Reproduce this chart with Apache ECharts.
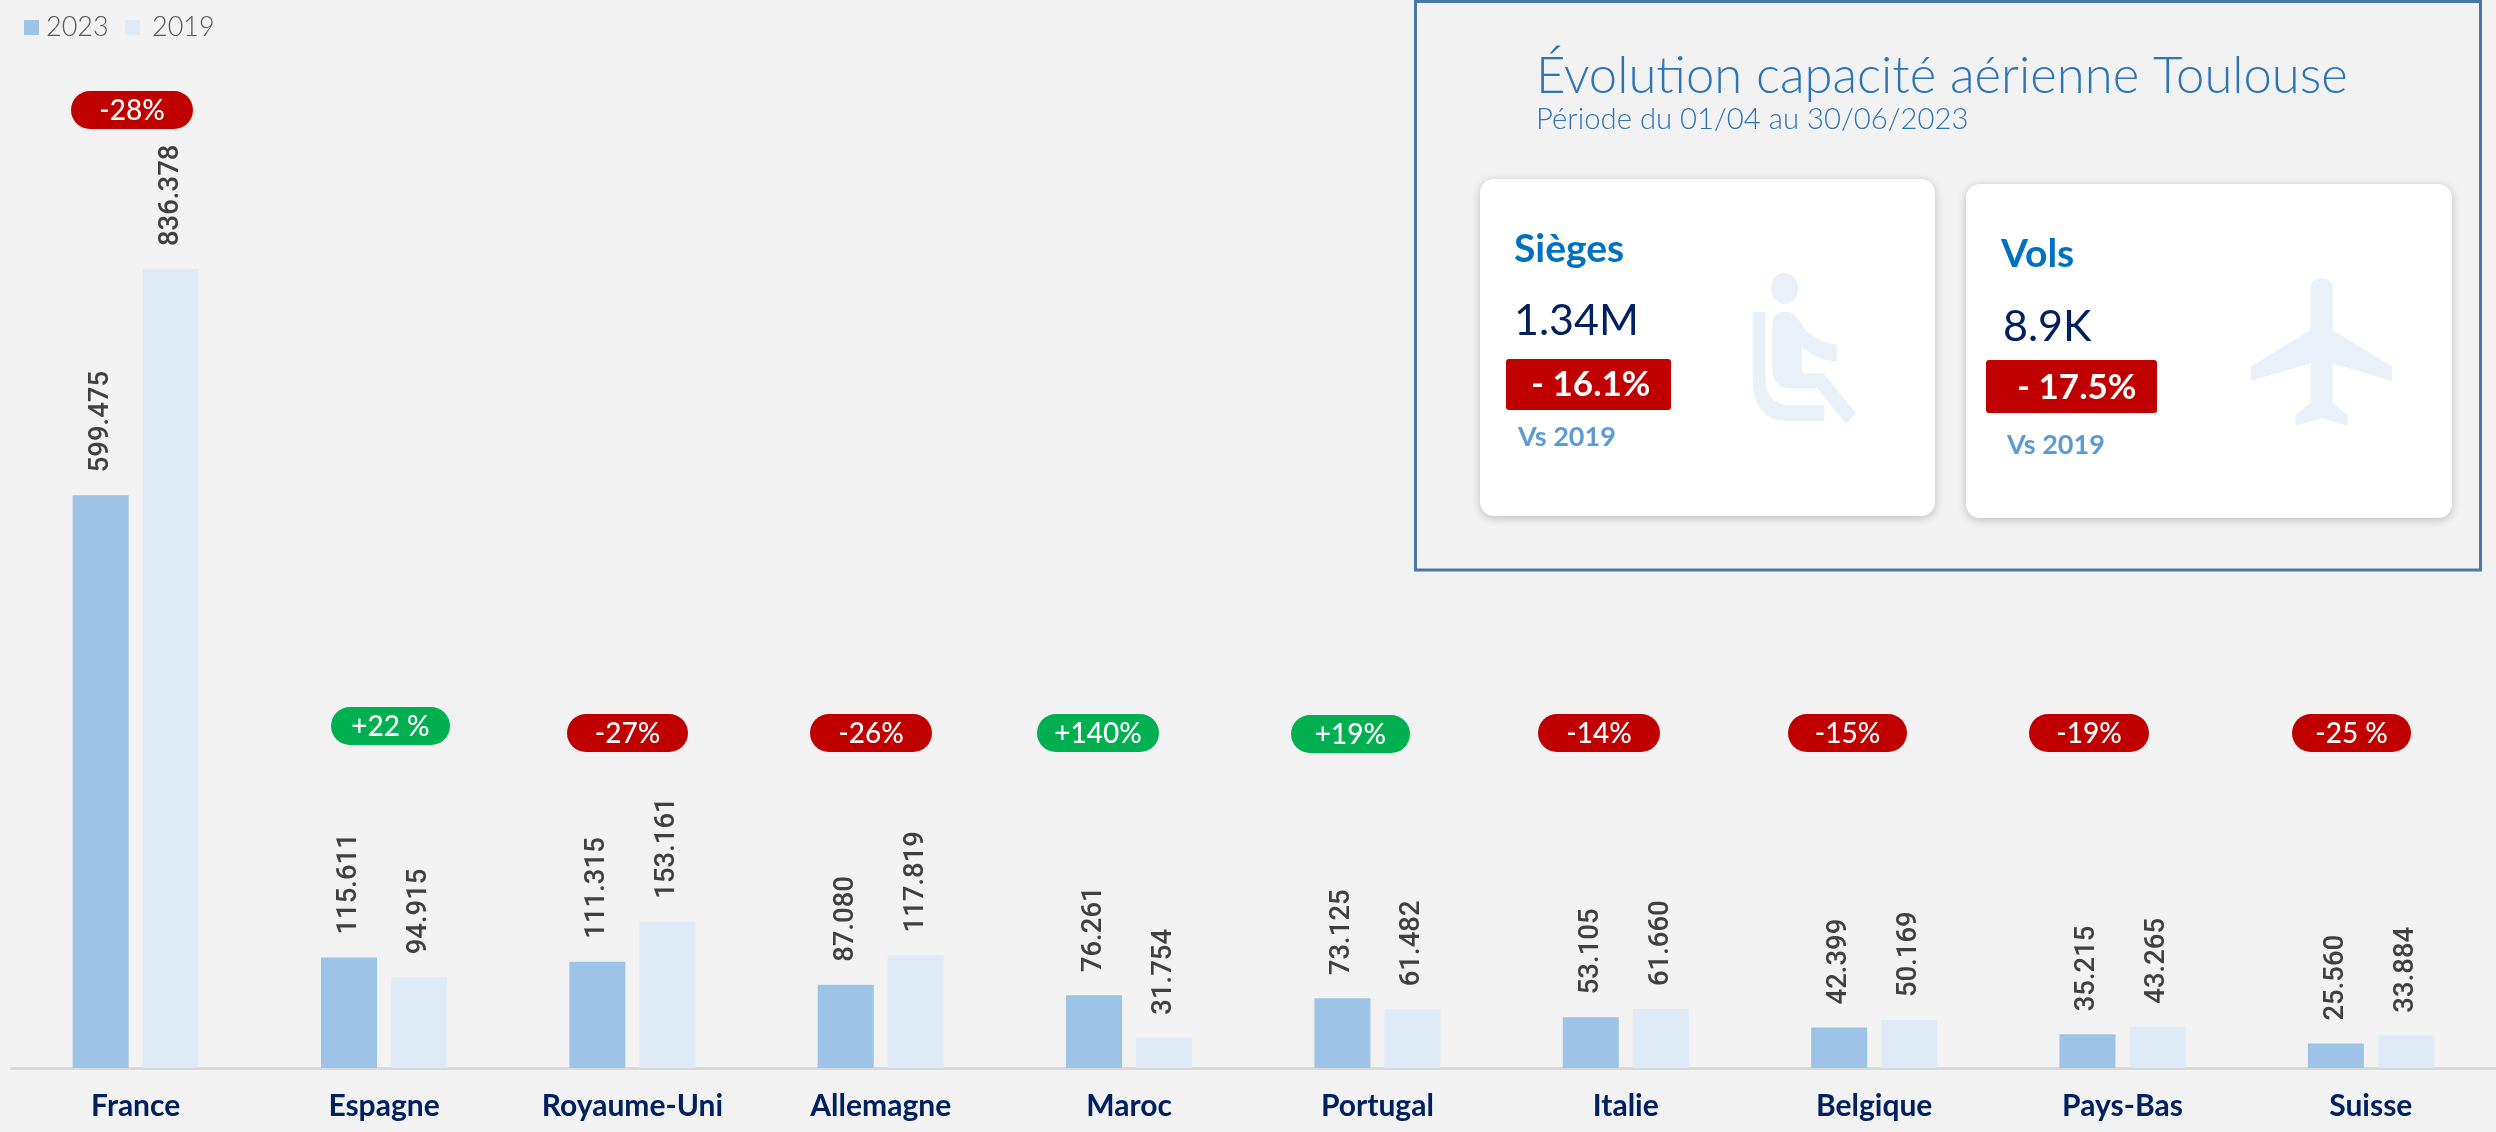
<!DOCTYPE html>
<html>
<head>
<meta charset="utf-8">
<style>html,body{margin:0;padding:0;background:#f2f2f2}#chart{width:2496px;height:1132px}</style>
<script src="https://cdn.jsdelivr.net/npm/echarts@6/dist/echarts.min.js"></script>
</head>
<body>
<div id="chart"></div>
<script>
const categories = ['France','Espagne','Royaume-Uni','Allemagne','Maroc','Portugal','Italie','Belgique','Pays-Bas','Suisse'];
const seats2023 = [599475,115611,111315,87080,76261,73125,53105,42399,35215,25560];
const seats2019 = [836378,94915,153161,117819,31754,61482,61660,50169,43265,33884];
const changeLabels = ['-28%','+22 %','-27%','-26%','+140%','+19%','-14%','-15%','-19%','-25 %'];

const FONT = 'Lato';
const RED = '#C00000', GREEN = '#00B050', ICON = '#EAF0F7';

// Pill boxes: left, right, top (pixels)
const pillBoxes = [[71,193,91],[331,450,707],[567,688,714],[810,932,714],[1037,1159,714],[1291,1410,715],[1538,1660,714],[1788,1907,714],[2029,2149,714],[2292,2411,714]];

function fmt(v){ const s = String(v); return s.slice(0,-3) + '.' + s.slice(-3); }
function txt(x, base, s, size, color, weight){
  return {type:'text', x:x, y:base - size*0.36, z:10,
    style:{text:s, font:(weight||400)+' '+size+'px '+FONT, fill:color, align:'left', verticalAlign:'middle'}};
}
function card(x0,y0,x1,y1){
  return {type:'rect', z:2, shape:{x:x0,y:y0,width:x1-x0,height:y1-y0,r:14},
    style:{fill:'#fff', shadowBlur:10, shadowColor:'rgba(0,0,0,0.22)', shadowOffsetY:2}};
}
function badge(x0,y0,x1,y1){
  return {type:'rect', z:5, shape:{x:x0,y:y0,width:x1-x0,height:y1-y0,r:3}, style:{fill:RED}};
}
const pills = [];
changeLabels.forEach(function(label,i){
  const b = pillBoxes[i];
  pills.push({type:'rect', z:5, shape:{x:b[0],y:b[2],width:b[1]-b[0],height:38,r:19},
    style:{fill:label.charAt(0)==='+' ? GREEN : RED}});
  pills.push({type:'text', z:6, x:(b[0]+b[1])/2, y:b[2]+20,
    style:{text:label, font:'500 28px '+FONT, fill:'#fff', align:'center', verticalAlign:'middle'}});
});

const seatBody = 'M97 190Q100 155 135 155Q165 155 190 200Q215 240 290 255L290 305Q225 300 185 258L185 340L250 340L348 460L318 492L232 385L150 385Q97 385 97 320Z';
const seatBack = 'M38 155L76 155L76 350Q76 435 150 435L253 435L253 482L140 482Q38 482 38 350Z';
const seatHead = 'M94 85C94 56 112 38 134 38C156 38 174 56 174 85C174 114 156 132 134 132C112 132 94 114 94 85Z';
const plane = 'M212 55Q212 25 245 25Q278 25 278 55L278 180L457 290L457 333L278 280L278 398L323 435L323 467L245 445L166 467L166 435L212 398L212 280L32 333L32 290L212 180Z';
function icon(d,x,y){ return {type:'path', x:x, y:y, scaleX:1/3, scaleY:1/3, shape:{pathData:d}, style:{fill:ICON}}; }

const graphics = [
  {type:'rect', z:1, shape:{x:1415.5,y:1.5,width:1065,height:568.5}, style:{fill:'none', stroke:'#4A78A8', lineWidth:3}},
  card(1480,179,1935,516), card(1966,184,2452,518),
  txt(1514,263,'Sièges',39,'#0070C0',700),
  txt(2001,268,'Vols',39,'#0070C0',700),
  txt(1514,337,'1.34M',43,'#002060',400),
  txt(2003,343,'8.9K',43,'#002060',400),
  badge(1506,359,1671,410), badge(1986,360,2157,413),
  txt(1531,397,'- 16.1%',35,'#fff',700),
  txt(2017,400,'- 17.5%',35,'#fff',700),
  txt(1518,447,'Vs 2019',27,'#5B9BD5',700),
  txt(2007,455,'Vs 2019',27,'#5B9BD5',700),
  txt(1536,95,'Évolution capacité aérienne Toulouse',50.8,'#2E75B6',300),
  txt(1536,130,'Période du 01/04 au 30/06/2023',29.3,'#2E75B6',300)
].concat(pills);

function barSeries(name,data,color){
  return {name:name, type:'bar', data:data, barWidth:56, barGap:'25%',
    itemStyle:{color:color},
    label:{show:true, position:'top', distance:23, rotate:90, align:'left', verticalAlign:'middle',
      formatter:function(p){return fmt(p.value);},
      fontFamily:'Roboto', fontSize:27.5, fontWeight:500, color:'#404040'}};
}

const chart = echarts.init(document.getElementById('chart'), null, {renderer:'canvas'});
chart.setOption({
  animation:false,
  backgroundColor:'#f2f2f2',
  legend:[
    {data:['2023'], left:19, top:9, itemWidth:15, itemHeight:15, icon:'rect',
      textStyle:{fontFamily:FONT, fontSize:27, fontWeight:300, color:'#595959', padding:[0,0,0,2]}},
    {data:['2019'], left:120, top:9, itemWidth:15, itemHeight:15, icon:'rect',
      textStyle:{fontFamily:FONT, fontSize:27, fontWeight:300, color:'#595959', padding:[0,0,0,7]}}
  ],
  grid:{left:11.5, right:1, top:0, height:1068},
  xAxis:{type:'category', data:categories,
    axisTick:{show:false},
    axisLine:{lineStyle:{color:'#D9D9D9', width:3}},
    axisLabel:{fontFamily:FONT, fontSize:30, fontWeight:700, color:'#002060', margin:23, interval:0}},
  yAxis:{type:'value', min:0, max:1118000, show:false, splitLine:{show:false}},
  series:[
    barSeries('2023',seats2023,'#9DC3E6'),
    barSeries('2019',seats2019,'#DEEAF6'),
    {type:'custom', coordinateSystem:'none', z:3, silent:true, data:[0],
      renderItem:function(){
        return {type:'group', children:[
          icon(seatBack,1740,260), icon(seatBody,1740,260), icon(seatHead,1740,260), icon(plane,2240,270)
        ]};
      }}
  ],
  graphic:graphics
});
</script>
</body>
</html>
